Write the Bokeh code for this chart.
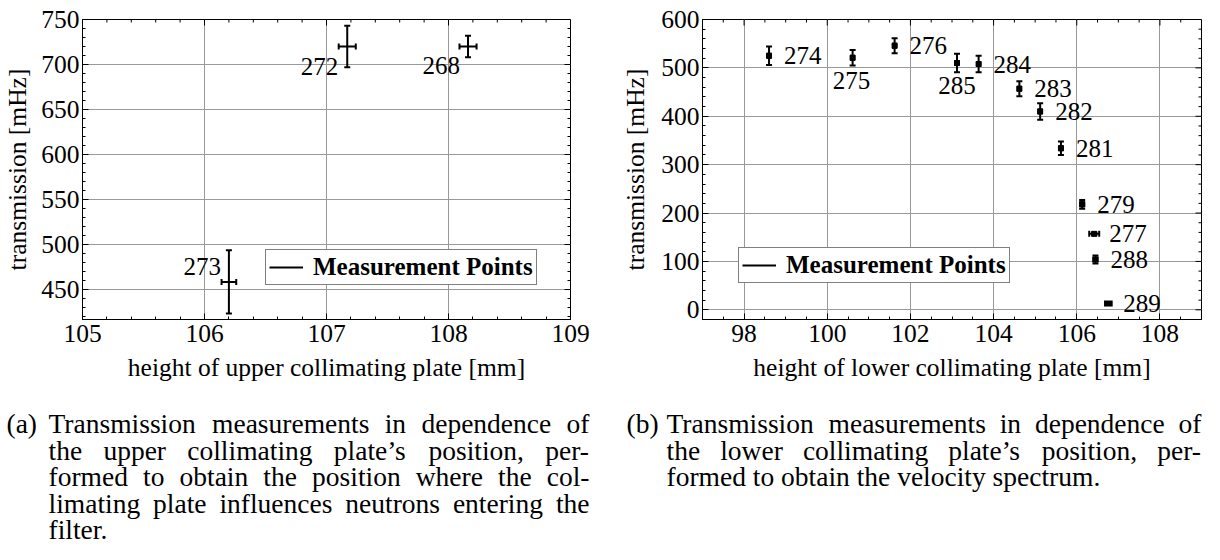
import math
from bokeh.plotting import figure
from bokeh.models import (Range1d, SingleIntervalTicker, Whisker, TeeHead,
                          ColumnDataSource, Legend, LegendItem)
from bokeh.layouts import column, row
from bokeh.core.properties import value
from bokeh.embed import file_html
from bokeh.resources import INLINE

# ---------------- data ----------------
# (a) upper collimating plate
runs_upper = ["273", "272", "268"]
height_upper = [106.20, 107.17, 108.16]
height_upper_err = [0.06, 0.07, 0.07]
trans_upper = [458.5, 720.0, 720.0]
trans_upper_err = [35.0, 23.0, 12.0]

# (b) lower collimating plate
runs_lower = ["274", "275", "276", "285", "284", "283", "282", "281", "279", "277", "288", "289"]
height_lower = [98.60, 100.61, 101.62, 103.12, 103.64, 104.62, 105.12, 105.62, 106.13, 106.42, 106.45, 106.76]
height_lower_err = [0.04, 0.04, 0.04, 0.04, 0.04, 0.04, 0.04, 0.04, 0.05, 0.12, 0.05, 0.08]
trans_lower = [525, 521, 546, 510, 508, 457, 410, 334, 218, 157, 104, 13]
trans_lower_err = [19, 16, 15.5, 19, 17, 15.5, 17, 14, 9, 3, 8.5, 3]

xlabel_upper = "height of upper collimating plate [mm]"
xlabel_lower = "height of lower collimating plate [mm]"
ylabel = "transmission [mHz]"
legend_label = "Measurement Points"

caption_a = ["Transmission measurements in dependence of",
             "the upper collimating plate\u2019s position, per-",
             "formed to obtain the position where the col-",
             "limating plate influences neutrons entering the",
             "filter."]
caption_b = ["Transmission measurements in dependence of",
             "the lower collimating plate\u2019s position, per-",
             "formed to obtain the velocity spectrum."]

# ---------------- layout / style ----------------
FONT = "Liberation Serif"
FS_AX = "25.5px"
FS_LBL = "25px"
GRID = "#999999"
CAP_FS = 27.5

# label placement per run: (dx px, dy px, align)
place_upper = {"273": (-8, -15, "right"), "272": (-9, 20, "right"), "268": (-8, 19, "right")}
place_lower = {r: (15, 0, "left") for r in runs_lower}
place_lower["275"] = (-1, 23, "center")
place_lower["285"] = (0, 22, "center")


def tick_positions(lo, hi, interval, nminor):
    step = interval / nminor
    k0, k1 = math.ceil(lo / step - 1e-9), math.floor(hi / step + 1e-9)
    major = [k * step for k in range(k0, k1 + 1) if k % nminor == 0]
    minor = [k * step for k in range(k0, k1 + 1) if k % nminor != 0]
    return major, minor


def style(p, xr, xint, xminor, yr, yint, yminor, xlabel, ystand):
    p.xaxis.ticker = SingleIntervalTicker(interval=xint, num_minor_ticks=xminor)
    p.yaxis.ticker = SingleIntervalTicker(interval=yint, num_minor_ticks=yminor)
    for ax in (p.xaxis[0], p.yaxis[0]):
        ax.major_label_text_font = FONT
        ax.major_label_text_font_size = FS_AX
        ax.major_label_text_color = "black"
        ax.axis_label_text_font = FONT
        ax.axis_label_text_font_size = FS_AX
        ax.axis_label_text_font_style = "normal"
        ax.axis_label_text_color = "black"
        ax.major_tick_in = 6
        ax.major_tick_out = 0
        ax.minor_tick_in = 3
        ax.minor_tick_out = 0
        ax.axis_line_color = "black"
    p.xaxis.major_label_standoff = 5
    p.yaxis.major_label_standoff = 3
    p.xaxis.axis_label = xlabel
    p.yaxis.axis_label = ylabel
    p.xaxis.axis_label_standoff = 8
    p.yaxis.axis_label_standoff = ystand
    p.grid.grid_line_color = GRID
    p.grid.grid_line_width = 1
    p.outline_line_color = "black"
    p.background_fill_color = "white"
    p.border_fill_color = "white"
    # inward ticks on the top and right frame edges (mirroring the axes)
    xmaj, xmin = tick_positions(xr[0], xr[1], xint, xminor)
    ymaj, ymin = tick_positions(yr[0], yr[1], yint, yminor)
    for xs, ln in ((xmaj, 6), (xmin, 3)):
        p.ray(x=xs, y=[yr[1]] * len(xs), length=ln, length_units="screen",
              angle=-math.pi / 2, line_color="black", line_width=1)
    for ys, ln in ((ymaj, 6), (ymin, 3)):
        p.ray(x=[xr[1]] * len(ys), y=ys, length=ln, length_units="screen",
              angle=math.pi, line_color="black", line_width=1)


def add_points(p, runs, x, xe, y, ye, place, square):
    src = ColumnDataSource(dict(
        x=x, y=y,
        lo=[a - b for a, b in zip(y, ye)], hi=[a + b for a, b in zip(y, ye)],
        le=[a - b for a, b in zip(x, xe)], ri=[a + b for a, b in zip(x, xe)]))
    p.add_layout(Whisker(source=src, base="x", lower="lo", upper="hi", dimension="height",
                         line_width=2, line_color="black",
                         upper_head=TeeHead(size=6, line_width=2),
                         lower_head=TeeHead(size=6, line_width=2)))
    p.add_layout(Whisker(source=src, base="y", lower="le", upper="ri", dimension="width",
                         line_width=2, line_color="black",
                         upper_head=TeeHead(size=6, line_width=2),
                         lower_head=TeeHead(size=6, line_width=2)))
    if square:
        p.scatter("x", "y", source=src, marker="square", size=5, color="black")
    for align in ("left", "right", "center"):
        idx = [i for i, r in enumerate(runs) if place[r][2] == align]
        if not idx:
            continue
        p.text(x=[x[i] for i in idx], y=[y[i] for i in idx], text=[runs[i] for i in idx],
               x_offset=[place[runs[i]][0] for i in idx], y_offset=[place[runs[i]][1] for i in idx],
               text_align=align, text_baseline="middle", text_font=value(FONT),
               text_font_size=FS_LBL, text_color="black")


def add_legend(p, loc):
    nan = float("nan")
    dummy = p.line(x=[nan, nan], y=[nan, nan], line_color="black", line_width=2)
    lg = Legend(items=[LegendItem(label=legend_label, renderers=[dummy])], location=loc,
                border_line_color="black", border_line_width=1, background_fill_alpha=1,
                label_text_font=FONT, label_text_font_style="bold", label_text_font_size=FS_LBL,
                label_text_color="black",
                glyph_width=34, glyph_height=20, label_standoff=10, padding=3, margin=0,
                spacing=0, label_height=20)
    p.add_layout(lg)


# ---- (a)
xr1, yr1 = (105, 109), (416.7, 750)
p1 = figure(width=610, height=398, x_range=Range1d(*xr1), y_range=Range1d(*yr1),
            toolbar_location=None, output_backend="svg",
            min_border_left=82, min_border_right=40, min_border_top=19, min_border_bottom=79)
style(p1, xr1, 1, 5, yr1, 50, 5, xlabel_upper, 6)
add_points(p1, runs_upper, height_upper, height_upper_err, trans_upper, trans_upper_err,
           place_upper, False)
add_legend(p1, (183, 34))

# ---- (b)
xr2, yr2 = (97, 109), (-20, 600)
p2 = figure(width=594, height=398, x_range=Range1d(*xr2), y_range=Range1d(*yr2),
            toolbar_location=None, output_backend="svg",
            min_border_left=92, min_border_right=3, min_border_top=9, min_border_bottom=79)
style(p2, xr2, 2, 4, yr2, 100, 5, xlabel_lower, 8)
add_points(p2, runs_lower, height_lower, height_lower_err, trans_lower, trans_lower_err,
           place_lower, True)
add_legend(p2, (36, 36))

# ---- captions (justified like the LaTeX source)
TW = {" ": 250, "(": 333, ")": 333, ",": 250, "-": 333, ".": 250, "\u2019": 333, "T": 611,
      "a": 444, "b": 500, "c": 444, "d": 500, "e": 444, "f": 333, "g": 500, "h": 500,
      "i": 278, "j": 278, "k": 500, "l": 278, "m": 778, "n": 500, "o": 500, "p": 500,
      "q": 500, "r": 333, "s": 389, "t": 278, "u": 500, "v": 500, "w": 722, "x": 500,
      "y": 500, "z": 444}


def text_w(s):
    return sum(TW.get(c, 500) for c in s) / 1000.0 * CAP_FS


cap = figure(width=1204, height=146, x_range=Range1d(0, 1204), y_range=Range1d(544, 398),
             toolbar_location=None, output_backend="svg", min_border=0,
             x_axis_type=None, y_axis_type=None, outline_line_color=None)
cap.background_fill_color = "white"
cap.border_fill_color = "white"

baselines = [423, 449.5, 476, 502.5, 529]
cx, cy, ct = [], [], []
for tag, tag_x, x0, x1, lines in (("(a)", 6, 48, 589, caption_a),
                                   ("(b)", 626, 666, 1201, caption_b)):
    cx.append(tag_x); cy.append(baselines[0]); ct.append(tag)
    for i, line in enumerate(lines):
        if i == len(lines) - 1:
            cx.append(x0); cy.append(baselines[i]); ct.append(line)
            continue
        words = line.split(" ")
        widths = [text_w(w) for w in words]
        gap = (x1 - x0 - sum(widths)) / (len(words) - 1)
        xpos = x0
        for w, wd in zip(words, widths):
            cx.append(xpos); cy.append(baselines[i]); ct.append(w)
            xpos += wd + gap

cap.text(x=cx, y=cy, text=ct, text_font=value(FONT), text_font_size=f"{CAP_FS}px",
         text_baseline="alphabetic", text_align="left", text_color="black")

layout = column(row(p1, p2), cap)
open("out.html", "w").write(file_html(layout, INLINE))
